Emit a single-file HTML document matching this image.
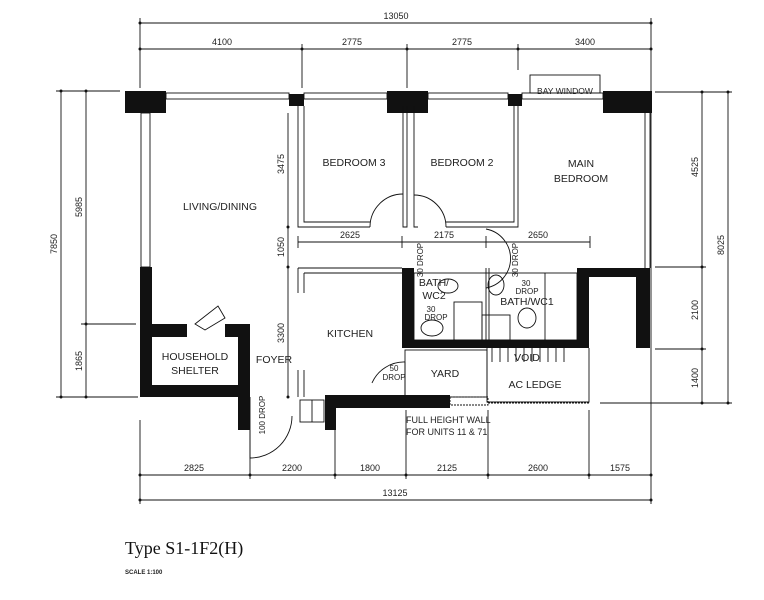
<!DOCTYPE html>
<html><head><meta charset="utf-8"><style>
html,body{margin:0;padding:0;background:#fff;}
svg{display:block;}
text{font-family:"Liberation Sans",sans-serif;fill:#222;}
.d{font-size:9px;}
.l{font-size:10.5px;}
</style></head><body>
<svg width="764" height="600" viewBox="0 0 764 600" xmlns="http://www.w3.org/2000/svg">
<g stroke="#111" stroke-width="0.9" fill="none">
<line x1="140" y1="23" x2="651" y2="23"/>
<line x1="140" y1="49" x2="651" y2="49"/>
<line x1="140" y1="18" x2="140" y2="88"/><line x1="651" y1="18" x2="651" y2="420"/>
<line x1="302" y1="44" x2="302" y2="88"/><line x1="407" y1="44" x2="407" y2="88"/><line x1="518" y1="44" x2="518" y2="70"/>
<line x1="61" y1="91" x2="61" y2="397"/><line x1="86" y1="91" x2="86" y2="397"/>
<line x1="56" y1="91" x2="120" y2="91"/><line x1="56" y1="397" x2="138" y2="397"/><line x1="81" y1="324" x2="136" y2="324"/>
<line x1="702" y1="92" x2="702" y2="403"/><line x1="728" y1="92" x2="728" y2="403"/>
<line x1="655" y1="92" x2="732" y2="92"/><line x1="655" y1="267" x2="706" y2="267"/><line x1="655" y1="349" x2="706" y2="349"/><line x1="600" y1="403" x2="732" y2="403"/>
<line x1="288" y1="113" x2="288" y2="397"/>
<line x1="298" y1="242" x2="590" y2="242"/>
<line x1="298" y1="236" x2="298" y2="248"/><line x1="402" y1="236" x2="402" y2="248"/><line x1="486" y1="236" x2="486" y2="248"/><line x1="590" y1="236" x2="590" y2="248"/>
<line x1="140" y1="475" x2="651" y2="475"/><line x1="140" y1="500" x2="651" y2="500"/>
<line x1="140" y1="420" x2="140" y2="504"/><line x1="651" y1="420" x2="651" y2="504"/>
<line x1="250" y1="430" x2="250" y2="479"/><line x1="335" y1="428" x2="335" y2="479"/><line x1="406" y1="410" x2="406" y2="479"/><line x1="488" y1="410" x2="488" y2="479"/><line x1="589" y1="410" x2="589" y2="479"/>
</g>
<g fill="#111">
<circle cx="140" cy="23" r="1.5"/><circle cx="651" cy="23" r="1.5"/>
<circle cx="140" cy="49" r="1.5"/><circle cx="302" cy="49" r="1.5"/><circle cx="407" cy="49" r="1.5"/><circle cx="518" cy="49" r="1.5"/><circle cx="651" cy="49" r="1.5"/>
<circle cx="61" cy="91" r="1.5"/><circle cx="61" cy="397" r="1.5"/><circle cx="86" cy="91" r="1.5"/><circle cx="86" cy="324" r="1.5"/><circle cx="86" cy="397" r="1.5"/>
<circle cx="702" cy="92" r="1.5"/><circle cx="702" cy="267" r="1.5"/><circle cx="702" cy="349" r="1.5"/><circle cx="702" cy="403" r="1.5"/><circle cx="728" cy="92" r="1.5"/><circle cx="728" cy="403" r="1.5"/>
<circle cx="288" cy="227" r="1.5"/><circle cx="288" cy="267" r="1.5"/><circle cx="288" cy="397" r="1.5"/>
<circle cx="140" cy="475" r="1.5"/><circle cx="250" cy="475" r="1.5"/><circle cx="335" cy="475" r="1.5"/><circle cx="406" cy="475" r="1.5"/><circle cx="488" cy="475" r="1.5"/><circle cx="589" cy="475" r="1.5"/><circle cx="651" cy="475" r="1.5"/>
<circle cx="140" cy="500" r="1.5"/><circle cx="651" cy="500" r="1.5"/>
<rect x="125" y="91" width="41" height="22"/>
<rect x="289" y="94" width="15" height="12"/>
<rect x="387" y="91" width="41" height="22"/>
<rect x="508" y="94" width="14" height="12"/>
<rect x="603" y="91" width="49" height="22"/>
<rect x="140" y="267" width="12" height="130"/>
<path d="M140 324 H250 V430 H238 V397 H140 Z"/>
<rect x="402" y="268" width="12" height="80"/>
<rect x="402" y="340" width="187" height="8"/>
<rect x="577" y="268" width="12" height="80"/>
<rect x="577" y="268" width="73" height="9"/>
<rect x="636" y="268" width="14" height="80"/>
<path d="M325 395 H450 V408 H336 V430 H325 Z"/>
</g>
<rect x="152" y="337" width="86" height="48" fill="#fff"/>
<rect x="187" y="324" width="38" height="13" fill="#fff"/>
<g stroke="#111" stroke-width="0.9" fill="none">
<rect x="166" y="93" width="123" height="6"/><rect x="304" y="93" width="83" height="6"/><rect x="428" y="93" width="80" height="6"/><rect x="522" y="93" width="81" height="6"/>
<rect x="530" y="75" width="70" height="18"/>
<rect x="141" y="113" width="9" height="154"/>
<line x1="645" y1="113" x2="645" y2="268"/><line x1="650" y1="113" x2="650" y2="268"/>
<path d="M298 106 V227 H370 M304 106 V222 H370"/>
<path d="M403 106 V227 H407 V106 M414 106 V227 H418"/>
<path d="M446 227 H518 V106 M446 222 H514 V106"/>
<path d="M370 227 A33 33 0 0 1 403 194"/><path d="M446 227 A32 32 0 0 0 414 195"/>
<path d="M486 229 A30 30 0 0 1 486 288"/>
<path d="M298 268 V293 M304 273 V293 M298 268 H402 M304 273 H402"/>
<path d="M298 370 V397 M304 370 V397"/>
<rect x="414" y="273" width="163" height="67"/>
<line x1="486" y1="268" x2="486" y2="340"/><line x1="489" y1="268" x2="489" y2="340"/>
<rect x="482" y="315" width="28" height="25"/>
<rect x="454" y="302" width="28" height="38"/>
<ellipse cx="448" cy="286" rx="10" ry="7"/><ellipse cx="432" cy="328" rx="11" ry="8"/>
<ellipse cx="496" cy="285" rx="8" ry="10"/><ellipse cx="527" cy="318" rx="9" ry="10"/>
<line x1="545" y1="273" x2="545" y2="340"/>
<rect x="405" y="350" width="82" height="47"/>
<path d="M487 348 V402 H589 V348"/>
<path d="M492 348 V362 M500 348 V362 M508 348 V362 M516 348 V362 M524 348 V362 M532 348 V362 M540 348 V362 M548 348 V362 M556 348 V362 M564 348 V362"/>
<rect x="450" y="397" width="38" height="8" stroke-dasharray="2 1"/>
<line x1="488" y1="403" x2="589" y2="403" stroke-dasharray="2 1"/>
<path d="M405 362 A35 35 0 0 0 372 383"/><line x1="405" y1="362" x2="405" y2="397"/>
<path d="M195 324 L218 306 L225 318 L205 330 Z" fill="#fff"/>
<path d="M250 397 V458 A42 42 0 0 0 292 416"/>
<rect x="300" y="400" width="24" height="22"/><line x1="312" y1="400" x2="312" y2="422"/>
</g>
<g class="d" text-anchor="middle">
<text x="396" y="19">13050</text>
<text x="222" y="45">4100</text><text x="352" y="45">2775</text><text x="462" y="45">2775</text><text x="585" y="45">3400</text>
<text x="350" y="238">2625</text><text x="444" y="238">2175</text><text x="538" y="238">2650</text>
<text x="194" y="471">2825</text><text x="292" y="471">2200</text><text x="370" y="471">1800</text><text x="447" y="471">2125</text><text x="538" y="471">2600</text><text x="620" y="471">1575</text>
<text x="395" y="496">13125</text>
<text transform="translate(57,244) rotate(-90)">7850</text>
<text transform="translate(82,207) rotate(-90)">5985</text>
<text transform="translate(82,361) rotate(-90)">1865</text>
<text transform="translate(284,164) rotate(-90)">3475</text>
<text transform="translate(284,247) rotate(-90)">1050</text>
<text transform="translate(284,333) rotate(-90)">3300</text>
<text transform="translate(698,167) rotate(-90)">4525</text>
<text transform="translate(724,245) rotate(-90)">8025</text>
<text transform="translate(698,310) rotate(-90)">2100</text>
<text transform="translate(698,378) rotate(-90)">1400</text>
</g>
<g class="l" text-anchor="middle">
<text x="220" y="210">LIVING/DINING</text>
<text x="354" y="166">BEDROOM 3</text>
<text x="462" y="166">BEDROOM 2</text>
<text x="581" y="167">MAIN</text><text x="581" y="182">BEDROOM</text>
<text x="350" y="337">KITCHEN</text>
<text x="195" y="360">HOUSEHOLD</text><text x="195" y="374">SHELTER</text>
<text x="274" y="363">FOYER</text>
<text x="445" y="377">YARD</text>
<text x="535" y="388">AC LEDGE</text>
<text x="527" y="361">VOID</text>
<text x="434" y="286">BATH/</text><text x="434" y="299">WC2</text>
<text x="527" y="305">BATH/WC1</text>
</g>
<g font-size="8" text-anchor="middle">
<text x="565" y="94" style="font-size:8.5px">BAY WINDOW</text>
<text x="431" y="312">30</text><text x="436" y="320">DROP</text>
<text x="526" y="286">30</text><text x="527" y="294">DROP</text>
<text x="394" y="371">50</text><text x="394" y="380">DROP</text>
<text transform="translate(423,260) rotate(-90)">30 DROP</text>
<text transform="translate(518,260) rotate(-90)">30 DROP</text>
<text transform="translate(265,415) rotate(-90)">100 DROP</text>
</g>
<g style="font-size:9px">
<text x="406" y="423">FULL HEIGHT WALL</text>
<text x="406" y="435">FOR UNITS 11 &amp; 71</text>
</g>
<text x="125" y="554" style="font-family:'Liberation Serif',serif;font-size:18px;fill:#111">Type S1-1F2(H)</text>
<text x="125" y="574" style="font-size:6px;font-weight:bold">SCALE 1:100</text>
</svg>
</body></html>
